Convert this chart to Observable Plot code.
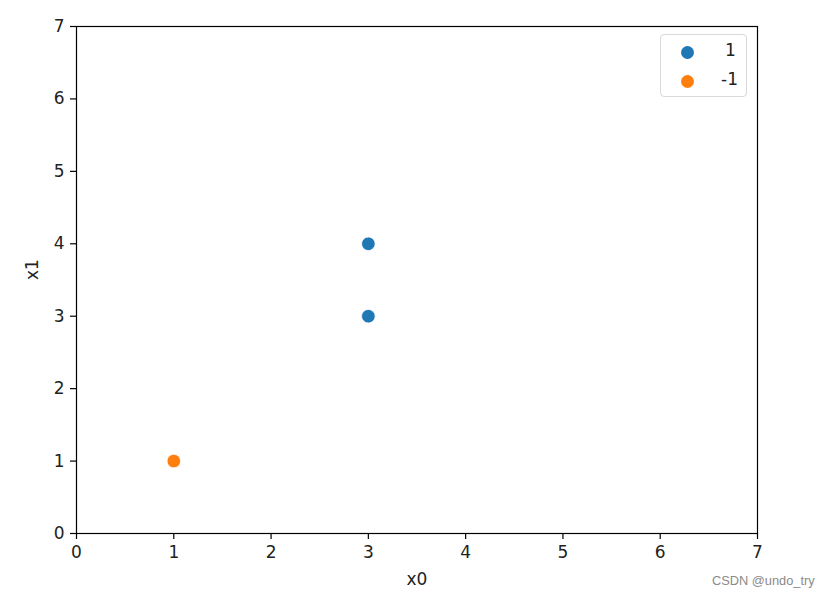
<!DOCTYPE html>
<html>
<head>
<meta charset="utf-8">
<script src="https://cdn.jsdelivr.net/npm/d3@7"></script>
<script src="https://cdn.jsdelivr.net/npm/@observablehq/plot@0.6"></script>
<style>
  html, body { margin: 0; padding: 0; background: #fff; }
  #wrap { position: relative; width: 830px; height: 598px; font-family: "DejaVu Sans", sans-serif; }
  #legend { position: absolute; left: 660px; top: 34px; width: 87px; height: 63px; box-sizing: border-box;
    border: 1px solid #d9d9d9; border-radius: 4px; background: rgba(255,255,255,0.8); font-size: 17px; color: #222; }
  .row { position: absolute; left: 0; height: 22px; width: 100%; }
  .dot { position: absolute; left: 20px; top: 4px; width: 13px; height: 13px; border-radius: 50%; }
  .lab { position: absolute; left: 62px; top: -2px; }
  #wm { position: absolute; left: 712px; top: 573px; font-family: "Liberation Sans", Arial, sans-serif; font-size: 12.8px; color: #8a8a8a; }
</style>
</head>
<body>
<div id="wrap"></div>
<script>
const xs = [3, 3, 1];
const ys = [4, 3, 1];
const labels = ["1", "1", "-1"];
const classes = ["1", "-1"];
const colors = ["#1f77b4", "#ff7f0e"];
const ticks = [0, 1, 2, 3, 4, 5, 6, 7];

const data = xs.map((x, i) => ({x, y: ys[i], label: labels[i]}));

const chart = Plot.plot({
  width: 830,
  height: 598,
  marginLeft: 76,
  marginRight: 73,
  marginTop: 26,
  marginBottom: 65,
  style: {fontFamily: "DejaVu Sans, sans-serif", fontSize: "17px", color: "#222", background: "#fff"},
  x: {domain: [0, 7], ticks: ticks, tickFormat: d => String(d)},
  y: {domain: [0, 7], ticks: ticks, tickFormat: d => String(d)},
  color: {domain: classes, range: colors},
  marks: [
    Plot.axisX({ticks, tickSize: 6, tickPadding: 6, stroke: "#000", strokeWidth: 1.2, fontSize: 17, label: null, tickFormat: d => String(d)}),
    Plot.axisY({ticks, tickSize: 6, tickPadding: 6, stroke: "#000", strokeWidth: 1.2, fontSize: 17, label: null, tickFormat: d => String(d)}),
    Plot.text(["x0"], {frameAnchor: "bottom", dy: 51, fontSize: 17, fill: "#222"}),
    Plot.text(["x1"], {frameAnchor: "left", dx: -44, rotate: -90, fontSize: 17, fill: "#222"}),
    Plot.dot(data, {x: "x", y: "y", fill: "label", r: 6.8, stroke: "#fff", strokeWidth: 0.8}),
    Plot.frame({stroke: "#000", strokeWidth: 1.2})
  ]
});
const wrap = document.getElementById("wrap");
wrap.appendChild(chart);

const legend = document.createElement("div");
legend.id = "legend";
classes.forEach((c, i) => {
  const row = document.createElement("div");
  row.className = "row";
  row.style.top = (7 + i * 29) + "px";
  const dot = document.createElement("div");
  dot.className = "dot";
  dot.style.background = colors[i];
  const lab = document.createElement("div");
  lab.className = "lab";
  lab.textContent = c;
  lab.style.left = (c.length > 1 ? 60 : 64) + "px";
  row.appendChild(dot); row.appendChild(lab);
  legend.appendChild(row);
});
wrap.appendChild(legend);

const wm = document.createElement("div");
wm.id = "wm";
wm.textContent = "CSDN @undo_try";
wrap.appendChild(wm);
</script>
</body>
</html>
